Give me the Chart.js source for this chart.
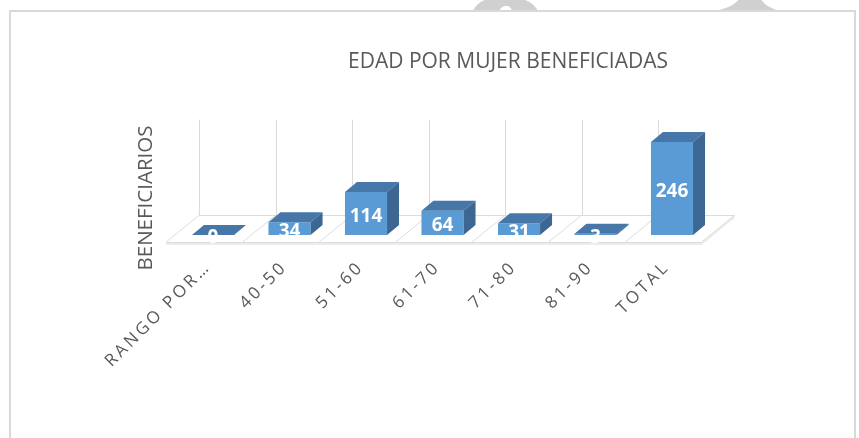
<!DOCTYPE html>
<html><head><meta charset="utf-8">
<script src="https://cdn.jsdelivr.net/npm/chart.js@4.4.1/dist/chart.umd.min.js"></script>
<style>
html,body{margin:0;padding:0;background:#fff;overflow:hidden;}
#wrap{position:relative;width:859px;height:438px;overflow:hidden;}
#frame{position:absolute;left:9px;top:10px;width:847px;height:460px;border:2px solid #d9d9d9;box-sizing:border-box;}
#deco{position:absolute;left:0;top:0;}
canvas{position:absolute;left:0;top:0;}
</style></head>
<body><div id="wrap">
<svg id="deco" width="859" height="12">
 <path d="M473,11 C477,2 486,-3 505,-3 C524,-3 533,2 538,11 Z" fill="#d0d0d0"/>
 <path d="M499,11 C501,7 504,6 506,6 C509,6 511,7 512,11 Z" fill="#ffffff"/>
 <path d="M713,11 C728,9 736,4 740,-2 L760,-2 C764,4 770,9 782,11 Z" fill="#d0d0d0"/>
</svg>
<div id="frame"></div>
<canvas id="c" width="859" height="438"></canvas>
</div>
<script>
const categories = ['RANGO POR…', '40-50', '51-60', '61-70', '71-80', '81-90', 'TOTAL'];
const beneficiarias = [0, 34, 114, 64, 31, 3, 246];
const chartTitle = 'EDAD POR MUJER BENEFICIADAS';
const axisTitle = 'BENEFICIARIOS';

const FRONT = '#5b9bd5', TOP = '#4677a8', SIDE = '#3c6792';
const BAR_D = {dx: 12, dy: -10};
const FLOOR_D = {dx: 33, dy: -27};
const FLOOR_O = {dx: -8.5, dy: 7};

const threeD = {
  id: 'threeD',
  beforeDraw(chart) { chart.ctx.letterSpacing = '3px'; },
  beforeDatasetsDraw(chart) {
    const ctx = chart.ctx; ctx.letterSpacing = '0px';
    const a = chart.chartArea;
    const n = categories.length, cw = (a.right - a.left) / n;
    const fl = a.left + FLOOR_O.dx, fr = a.right + FLOOR_O.dx, fy = a.bottom + FLOOR_O.dy;
    ctx.save();
    ctx.fillStyle = '#ffffff';
    ctx.strokeStyle = '#d9d9d9'; ctx.lineWidth = 1;
    ctx.beginPath();
    ctx.moveTo(fl, fy); ctx.lineTo(fr, fy); ctx.lineTo(fr + FLOOR_D.dx, fy + FLOOR_D.dy);
    ctx.lineTo(fl + FLOOR_D.dx, fy + FLOOR_D.dy); ctx.closePath(); ctx.fill();
    ctx.fillStyle = '#ececec';
    ctx.fillRect(fl, fy, fr - fl, 3);
    ctx.beginPath();
    ctx.moveTo(fr, fy); ctx.lineTo(fr + FLOOR_D.dx, fy + FLOOR_D.dy);
    ctx.lineTo(fr + FLOOR_D.dx, fy + FLOOR_D.dy + 3); ctx.lineTo(fr, fy + 3); ctx.closePath(); ctx.fill();
    ctx.strokeStyle = '#dcdcdc';
    ctx.beginPath();
    ctx.moveTo(fl, fy + 0.5); ctx.lineTo(fr, fy + 0.5);
    ctx.moveTo(fl + FLOOR_D.dx, fy + FLOOR_D.dy + 0.5); ctx.lineTo(fr + FLOOR_D.dx, fy + FLOOR_D.dy + 0.5);
    for (let k = 0; k <= n; k++) {
      const x0 = fl + k * cw;
      ctx.moveTo(x0, fy); ctx.lineTo(x0 + FLOOR_D.dx, fy + FLOOR_D.dy);
    }
    ctx.stroke();
    ctx.strokeStyle = '#d9d9d9';
    ctx.beginPath();
    for (let k = 0; k < n; k++) {
      const x0 = Math.round(fl + k * cw + FLOOR_D.dx) + 0.5;
      ctx.moveTo(x0, fy + FLOOR_D.dy); ctx.lineTo(x0, a.top - 2);
    }
    ctx.stroke();
    ctx.restore();
  },
  afterDatasetsDraw(chart) {
    const ctx = chart.ctx;
    const meta = chart.getDatasetMeta(0);
    ctx.save();
    meta.data.forEach((el) => {
      const w = el.width, x0 = el.x - w / 2, x1 = el.x + w / 2, t = el.y, b = el.base;
      ctx.fillStyle = TOP;
      ctx.beginPath();
      ctx.moveTo(x0, t); ctx.lineTo(x1, t); ctx.lineTo(x1 + BAR_D.dx, t + BAR_D.dy); ctx.lineTo(x0 + BAR_D.dx, t + BAR_D.dy);
      ctx.closePath(); ctx.fill();
      ctx.fillStyle = SIDE;
      ctx.beginPath();
      ctx.moveTo(x1, t); ctx.lineTo(x1 + BAR_D.dx, t + BAR_D.dy); ctx.lineTo(x1 + BAR_D.dx, b + BAR_D.dy); ctx.lineTo(x1, b);
      ctx.closePath(); ctx.fill();
    });
    ctx.fillStyle = '#ffffff';
    ctx.font = 'bold 19px "Open Sans"';
    ctx.textAlign = 'center'; ctx.textBaseline = 'middle';
    meta.data.forEach((el, i) => {
      const cy = (el.y + el.base) / 2 + 3;
      ctx.fillText(String(beneficiarias[i]), el.x, cy);
    });
    ctx.restore();
  },
  afterDraw(chart) {
    const ctx = chart.ctx;
    ctx.save();
    ctx.letterSpacing = '0px';
    ctx.fillStyle = '#595959';
    ctx.textAlign = 'center'; ctx.textBaseline = 'middle';
    ctx.font = '21px "Open Sans"';
    ctx.fillText(chartTitle, 508, 62);
    ctx.translate(146, 198);
    ctx.rotate(-Math.PI / 2);
    ctx.font = '20.5px "Open Sans"';
    ctx.fillText(axisTitle, 0, 0);
    ctx.restore();
  }
};

new Chart(document.getElementById('c'), {
  type: 'bar',
  data: {
    labels: categories,
    datasets: [{
      data: beneficiarias,
      backgroundColor: FRONT,
      borderWidth: 0,
      barPercentage: 0.55,
      categoryPercentage: 1.0
    }]
  },
  options: {
    responsive: false,
    animation: false,
    events: [],
    layout: { padding: { left: 174.75, right: 148.75, top: 121.6, bottom: 0 } },
    plugins: { legend: { display: false }, tooltip: { enabled: false }, title: { display: false } },
    scales: {
      x: {
        grid: { display: false, drawTicks: false },
        border: { display: false },
        ticks: { minRotation: 45, maxRotation: 45, autoSkip: false, padding: 22, labelOffset: -5, color: '#595959',
                 font: { family: 'Open Sans', size: 17 } },
        afterFit(s) { s.height = 203; }
      },
      y: { display: false, min: 0, max: 300 }
    }
  },
  plugins: [threeD]
});
</script>
</body></html>
